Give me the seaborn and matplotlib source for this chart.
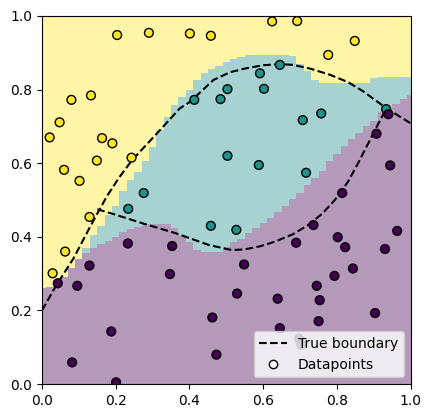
import numpy as np
import pandas as pd
import matplotlib
matplotlib.use("Agg")
import matplotlib.pyplot as plt
import matplotlib.lines as mlines
import seaborn as sns

# datapoints (x, y, class)
yellow_x = [0.021, 0.048, 0.080, 0.133, 0.163, 0.191, 0.149, 0.060, 0.102, 0.243, 0.204,
            0.290, 0.401, 0.458, 0.624, 0.692, 0.848, 0.776, 0.129, 0.063, 0.029]
yellow_y = [0.670, 0.711, 0.772, 0.784, 0.668, 0.654, 0.607, 0.582, 0.552, 0.615, 0.948,
            0.954, 0.952, 0.946, 0.985, 0.986, 0.932, 0.894, 0.454, 0.360, 0.301]
teal_x = [0.276, 0.413, 0.484, 0.503, 0.503, 0.234, 0.458, 0.645, 0.591, 0.602, 0.757,
          0.707, 0.933, 0.588, 0.716, 0.527]
teal_y = [0.519, 0.772, 0.774, 0.801, 0.620, 0.476, 0.430, 0.867, 0.844, 0.802, 0.735,
          0.717, 0.747, 0.595, 0.574, 0.419]
purple_x = [0.043, 0.096, 0.129, 0.233, 0.353, 0.347, 0.462, 0.473, 0.188, 0.082, 0.201,
            0.939, 0.907, 0.944, 0.814, 0.736, 0.689, 0.802, 0.822, 0.963, 0.930, 0.548,
            0.843, 0.793, 0.745, 0.529, 0.639, 0.753, 0.903, 0.750, 0.645, 0.697, 0.703]
purple_y = [0.274, 0.267, 0.322, 0.382, 0.375, 0.299, 0.181, 0.080, 0.143, 0.059, 0.005,
            0.733, 0.680, 0.594, 0.519, 0.432, 0.384, 0.399, 0.372, 0.416, 0.367, 0.325,
            0.314, 0.294, 0.267, 0.246, 0.232, 0.228, 0.193, 0.171, 0.152, 0.123, 0.107]

# predicted regions: top of class 0 region, bottom of class 2 region
grid_x = [round(0.02 * i, 2) for i in range(51)]
purple_top = [0.26, 0.265, 0.275, 0.29, 0.315, 0.34, 0.357, 0.37, 0.38, 0.39, 0.40,
              0.413, 0.42, 0.428, 0.434, 0.434, 0.434, 0.434, 0.425, 0.405, 0.385,
              0.365, 0.358, 0.358, 0.36, 0.372, 0.385, 0.395, 0.41, 0.425, 0.437,
              0.45, 0.467, 0.485, 0.503, 0.52, 0.54, 0.56, 0.58, 0.605, 0.625,
              0.647, 0.665, 0.683, 0.70, 0.715, 0.74, 0.75, 0.76, 0.775, 0.786]
yellow_bottom = [0.26, 0.265, 0.275, 0.29, 0.315, 0.34, 0.37, 0.405, 0.43, 0.46, 0.485,
                 0.525, 0.555, 0.575, 0.605, 0.645, 0.69, 0.725, 0.758, 0.78, 0.80,
                 0.825, 0.845, 0.855, 0.865, 0.876, 0.883, 0.889, 0.894, 0.894, 0.894,
                 0.894, 0.894, 0.894, 0.89, 0.87, 0.849, 0.826, 0.817, 0.817, 0.817,
                 0.817, 0.817, 0.817, 0.817, 0.83, 0.835, 0.835, 0.835, 0.835, 0.835]

# true boundary curves
upper_x = [0.0, 0.04, 0.086, 0.131, 0.176, 0.21, 0.245, 0.312, 0.374, 0.402, 0.465,
           0.51, 0.555, 0.60, 0.645, 0.681, 0.73, 0.781, 0.83, 0.871, 0.934, 1.0]
upper_y = [0.2, 0.27, 0.342, 0.428, 0.51, 0.562, 0.609, 0.681, 0.749, 0.767, 0.826,
           0.847, 0.858, 0.866, 0.869, 0.867, 0.856, 0.84, 0.82, 0.795, 0.749, 0.708]
lower_x = [0.15, 0.2, 0.272, 0.362, 0.452, 0.515, 0.55, 0.59, 0.632, 0.68, 0.722,
           0.76, 0.794, 0.83, 0.857, 0.903, 0.934]
lower_y = [0.475, 0.46, 0.437, 0.41, 0.378, 0.364, 0.366, 0.374, 0.387, 0.407, 0.432,
           0.463, 0.50, 0.55, 0.60, 0.69, 0.749]

pts = pd.DataFrame({
    "x": yellow_x + teal_x + purple_x,
    "y": yellow_y + teal_y + purple_y,
    "cls": [2] * len(yellow_x) + [1] * len(teal_x) + [0] * len(purple_x),
})

cmap = plt.get_cmap("viridis")
palette = {0: cmap(0.0), 1: cmap(0.5), 2: cmap(1.0)}

fig = plt.figure(figsize=(4.32, 4.18), dpi=100)
ax = fig.add_axes([0.097, 0.081, 0.854, 0.881])

ax.fill_between(grid_x, 0, purple_top, step="mid", color=palette[0], alpha=0.4,
                linewidth=0, antialiased=False)
ax.fill_between(grid_x, purple_top, yellow_bottom, step="mid", color=palette[1], alpha=0.4,
                linewidth=0, antialiased=False)
ax.fill_between(grid_x, yellow_bottom, 1, step="mid", color=palette[2], alpha=0.4,
                linewidth=0, antialiased=False)

ax.plot(upper_x, upper_y, "k--", linewidth=1.5)
ax.plot(lower_x, lower_y, "k--", linewidth=1.5)

sns.scatterplot(data=pts, x="x", y="y", hue="cls", palette=palette, s=40,
                edgecolor="black", linewidth=1, legend=False, ax=ax, zorder=3)

ax.set_xlim(0, 1)
ax.set_ylim(0, 1)
ax.set_xlabel("")
ax.set_ylabel("")

handles = [
    mlines.Line2D([], [], color="black", linestyle="--", label="True boundary"),
    mlines.Line2D([], [], color="black", marker="o", markerfacecolor="white",
                  linestyle="none", label="Datapoints"),
]
ax.legend(handles=handles, loc="lower right")

fig.savefig("out.png", dpi=100)
